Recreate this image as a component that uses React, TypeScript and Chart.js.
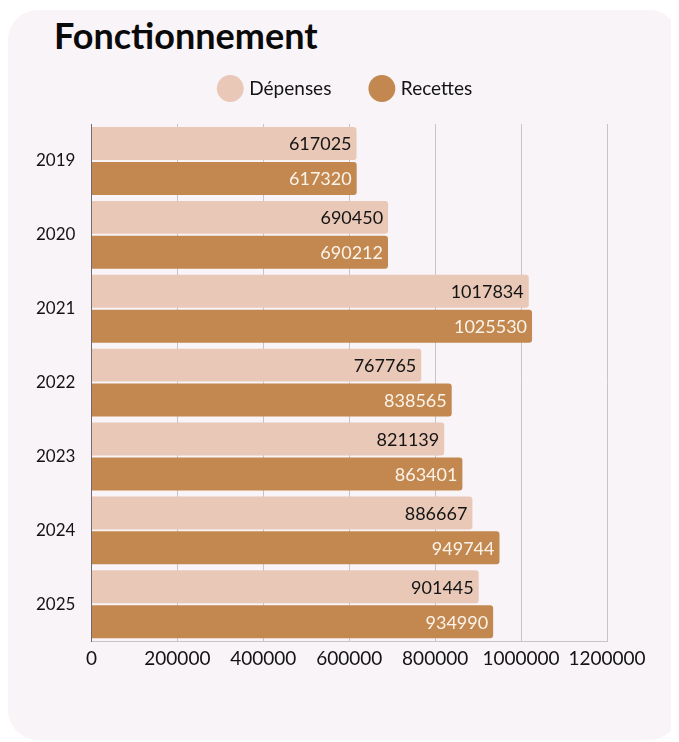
import React, { useEffect, useRef } from "react";
import { Chart, registerables } from "chart.js";

Chart.register(...registerables);

const years = ["2019", "2020", "2021", "2022", "2023", "2024", "2025"];
const depenses = [617025, 690450, 1017834, 767765, 821139, 886667, 901445];
const recettes = [617320, 690212, 1025530, 838565, 863401, 949744, 934990];
const seriesNames = ["Dépenses", "Recettes"];
const title = "Fonctionnement";

const FONT = "Lato, 'Open Sans', sans-serif";

const valueLabels = {
  id: "valueLabels",
  afterDatasetsDraw(chart: any) {
    const ctx = chart.ctx;
    ctx.save();
    ctx.font = `18px ${FONT}`;
    ctx.textAlign = "right";
    ctx.textBaseline = "middle";
    chart.data.datasets.forEach((ds: any, i: number) => {
      const meta = chart.getDatasetMeta(i);
      ctx.fillStyle = i === 0 ? "#141414" : "#fbf3ea";
      meta.data.forEach((bar: any, j: number) => {
        ctx.fillText(String(ds.data[j]), bar.x - 5, bar.y + 1);
      });
    });
    ctx.restore();
  },
};

const legendSpace = {
  id: "legendSpace",
  afterInit(chart: any) {
    const legend = chart.legend;
    if (!legend) return;
    const fit = legend.fit;
    legend.fit = function () {
      fit.call(legend);
      legend.height += 16;
    };
  },
  afterLayout(chart: any) {
    const legend = chart.legend;
    if (!legend) return;
    legend.left += 33;
    legend.right += 33;
  },
};

export default function App() {
  const ref = useRef<HTMLCanvasElement>(null);
  useEffect(() => {
    if (!ref.current) return;
    const chart = new Chart(ref.current, {
      type: "bar",
      data: {
        labels: years,
        datasets: [
          {
            label: seriesNames[0],
            data: depenses,
            backgroundColor: "#e9c8b8",
            borderRadius: 3,
            borderSkipped: "start",
            categoryPercentage: 0.946,
            barPercentage: 0.943,
          },
          {
            label: seriesNames[1],
            data: recettes,
            backgroundColor: "#c2884f",
            borderRadius: 3,
            borderSkipped: "start",
            categoryPercentage: 0.946,
            barPercentage: 0.943,
          },
        ],
      },
      options: {
        indexAxis: "y",
        animation: false,
        responsive: false,
        maintainAspectRatio: false,
        layout: { padding: { top: 28, left: 12, right: 72, bottom: 64 } },
        plugins: {
          legend: {
            position: "top",
            labels: {
              usePointStyle: true,
              pointStyle: "circle",
              boxWidth: 20,
              boxHeight: 20,
              padding: 41,
              color: "#141414",
              font: { family: FONT, size: 19 },
            },
          },
          tooltip: { enabled: false },
        },
        scales: {
          x: {
            min: 0,
            max: 1200000,
            ticks: {
              stepSize: 200000,
              color: "#141414",
              padding: 6,
              font: { family: FONT, size: 19 },
              callback: (v: any) => String(v),
            },
            grid: { color: "#c9c3c9", drawTicks: false },
            border: { display: true, color: "#c9c3c9" },
          },
          y: {
            ticks: {
              color: "#141414",
              padding: 16,
              font: { family: FONT, size: 17 },
            },
            grid: { display: false, drawTicks: false },
            border: { display: true, color: "#6f6a6f" },
          },
        },
      },
      plugins: [valueLabels, legendSpace],
    });
    return () => chart.destroy();
  }, []);

  return (
    <div
      style={{
        position: "relative",
        marginTop: 2,
        width: 671,
        height: 730,
        background: "#f9f4f8",
        borderRadius: 30,
        overflow: "hidden",
      }}
    >
      <div
        style={{
          position: "absolute",
          left: 46,
          top: 3,
          fontFamily: FONT,
          fontWeight: 700,
          fontSize: 36,
          color: "#0a0a0a",
          lineHeight: "44px",
        }}
      >
        {title}
      </div>
      <canvas
        ref={ref}
        width={671}
        height={730}
        style={{ position: "absolute", left: 0, top: 0 }}
      />
    </div>
  );
}
